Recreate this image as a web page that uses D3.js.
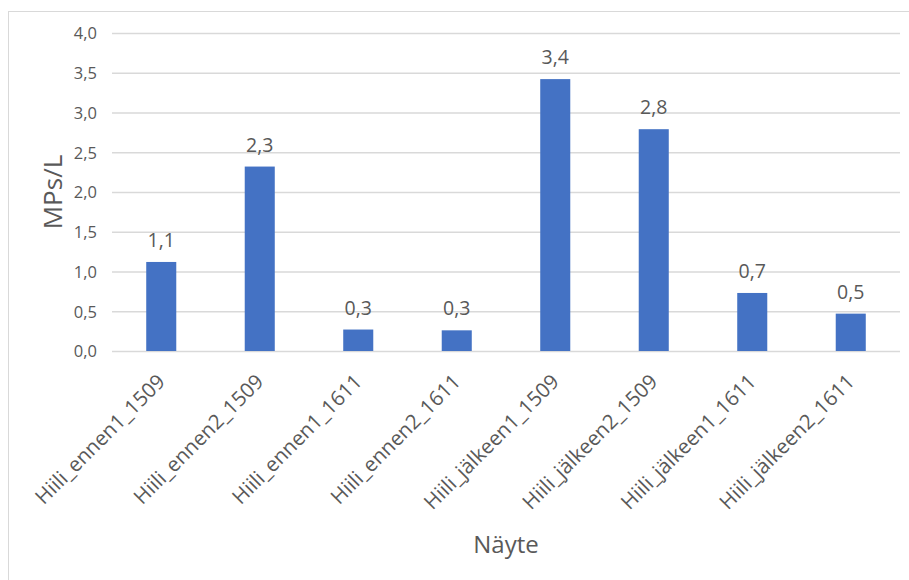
<!DOCTYPE html>
<html>
<head>
<meta charset="utf-8">
<script src="https://cdn.jsdelivr.net/npm/d3@7"></script>
<style>
  html, body { margin: 0; padding: 0; background: #ffffff; }
  svg { display: block; }
  text { font-family: "Open Sans", "Noto Sans", sans-serif; fill: #595959; }
</style>
</head>
<body>
<svg id="chart" width="909" height="580"></svg>
<script>
// Sample names and measured microplastic concentrations (MPs/L)
const categories = [
  "Hiili_ennen1_1509", "Hiili_ennen2_1509", "Hiili_ennen1_1611", "Hiili_ennen2_1611",
  "Hiili_jälkeen1_1509", "Hiili_jälkeen2_1509", "Hiili_jälkeen1_1611", "Hiili_jälkeen2_1611"
];
const values = [1.12, 2.32, 0.27, 0.26, 3.42, 2.79, 0.73, 0.47];
const yTicks = [0, 0.5, 1, 1.5, 2, 2.5, 3, 3.5, 4];
const yTitle = "MPs/L";
const xTitle = "Näyte";

const svg = d3.select("#chart");
const W = 909, H = 580;
const margin = { left: 112, right: 9, top: 33, bottom: 229 };

// Comma as decimal separator
const fmt = d3.formatLocale({ decimal: ",", thousands: "\u00a0", grouping: [3], currency: ["", "€"] }).format(".1f");

// Chart area frame
svg.append("rect")
  .attr("x", 8.5).attr("y", 11.5)
  .attr("width", 1000).attr("height", 1000)
  .attr("fill", "#ffffff")
  .attr("stroke", "#d9d9d9").attr("stroke-width", 1);

const x = d3.scaleBand()
  .domain(categories)
  .range([margin.left, W - margin.right])
  .paddingInner(0.695)
  .paddingOuter(0.3475);

const y = d3.scaleLinear()
  .domain([0, 4])
  .range([H - margin.bottom, margin.top]);

// Horizontal gridlines and value axis labels
const yAxis = d3.axisLeft(y)
  .tickValues(yTicks)
  .tickSize(-(W - margin.right - margin.left))
  .tickPadding(15)
  .tickFormat(fmt);

const gy = svg.append("g")
  .attr("transform", `translate(${margin.left},0)`)
  .call(yAxis);
gy.select(".domain").remove();
gy.selectAll(".tick line").attr("stroke", "#d9d9d9").attr("stroke-width", 1.3);
gy.selectAll(".tick text")
  .attr("fill", "#595959")
  .style("font-size", "16.5px")
  .attr("dy", "0.36em");

// Bars
svg.append("g").selectAll("rect")
  .data(values)
  .join("rect")
  .attr("x", (d, i) => x(categories[i]))
  .attr("y", d => y(d))
  .attr("width", x.bandwidth())
  .attr("height", d => y(0) - y(d))
  .attr("fill", "#4472c4");

// Value labels above bars
svg.append("g").selectAll("text")
  .data(values)
  .join("text")
  .attr("x", (d, i) => x(categories[i]) + x.bandwidth() / 2)
  .attr("y", d => y(d) - 15)
  .attr("text-anchor", "middle")
  .style("font-size", "19.5px")
  .text(d => fmt(d));

// Rotated category labels
svg.append("g").selectAll("text")
  .data(categories)
  .join("text")
  .attr("transform", d => `translate(${x(d) + x.bandwidth() / 2 + 5},${y(0) + 32}) rotate(-45)`)
  .attr("text-anchor", "end")
  .style("font-size", "20.5px")
  .text(d => d);

// Axis titles
svg.append("text")
  .attr("transform", `translate(62,${(y(0) + y(4)) / 2}) rotate(-90)`)
  .attr("text-anchor", "middle")
  .style("font-size", "26px")
  .text(yTitle);

svg.append("text")
  .attr("x", (margin.left + W - margin.right) / 2)
  .attr("y", 553)
  .attr("text-anchor", "middle")
  .style("font-size", "24px")
  .text(xTitle);
</script>
</body>
</html>
